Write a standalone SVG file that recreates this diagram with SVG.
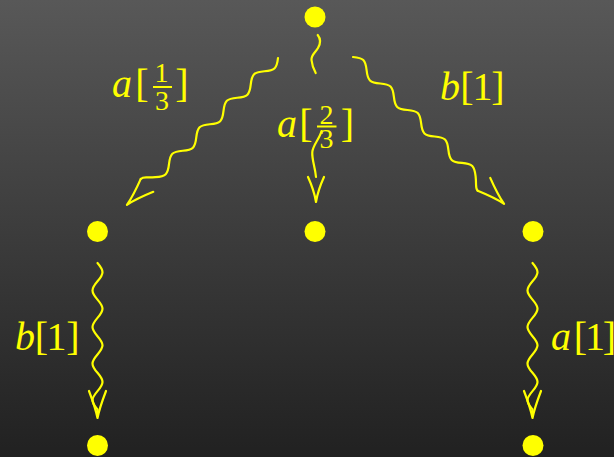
<svg xmlns="http://www.w3.org/2000/svg" xmlns:xlink="http://www.w3.org/1999/xlink" width="614" height="457" viewBox="0 0 614 457">
<style>
.dot{fill:#ffff00}
.t{font-family:"Liberation Serif","DejaVu Serif",serif;font-size:40px;fill:#ffff00;text-anchor:middle}
.it{font-style:italic}
.f{font-size:28px}
.bar{fill:#ffff00}
</style>
<defs>
<linearGradient id="bg" x1="0" y1="0" x2="0" y2="1">
<stop offset="0" stop-color="#585858"/>
<stop offset="1" stop-color="#212121"/>
</linearGradient>
<path id="snakeD" d="M0,0 c8.06,-6.67 10.94,-6.67 19,0 s10.94,6.67 19,0 s10.94,-6.67 19,0 s10.94,6.67 19,0 s10.94,-6.67 19,0 s10.94,6.67 19,0 s10.94,-6.67 19,0 s10.94,6.67 19,0 s10.94,-6.67 19,0 s8,9 11.7,9"/>
<path id="headD" d="M182.7,-9 Q200,-2 210.7,0 Q200,2 182.7,9"/>
<path id="snakeV" d="M0,0 c7.76,-6.67 10.54,-6.67 18.3,0 s10.54,6.67 18.3,0 s10.54,-6.67 18.3,0 s10.54,6.67 18.3,0 s10.54,-6.67 18.3,0 s10.54,6.67 18.3,0 s10.54,-6.67 18.3,0 s10.54,6.67 18.3,0 l6,0"/>
<path id="headV" d="M128,-8.5 Q145,-2 155,0 Q145,2 128,8.5"/>
</defs>
<rect x="0" y="0" width="614" height="457" fill="url(#bg)"/>

<g id="connectors" fill="none" stroke="#ffff00" stroke-width="2.2" stroke-linecap="round" stroke-linejoin="round">
<g id="edge-root-left" transform="translate(278,58) rotate(135.8)"><use href="#snakeD" xlink:href="#snakeD"/><use href="#headD" xlink:href="#headD"/></g>
<g id="edge-root-right" transform="translate(353,57) rotate(44.2)"><use href="#snakeD" xlink:href="#snakeD"/><use href="#headD" xlink:href="#headD"/></g>
<g id="edge-root-mid">
<path d="M317.7,35 C320.5,38.5 321,43 318,48 C315,53 311,55 311.5,60 C312,65 314,70 315.7,73"/>
<path d="M321.5,131 C320,138 313,145 312.3,152 C311.8,160 315,166 316,177"/>
<path d="M308,177 Q314,190 316,202 Q318,190 324,177"/>
</g>
<g id="edge-left-down" transform="translate(97.5,263) rotate(90)"><use href="#snakeV" xlink:href="#snakeV"/><use href="#headV" xlink:href="#headV"/></g>
<g id="edge-right-down" transform="translate(532.5,263) rotate(90)"><use href="#snakeV" xlink:href="#snakeV"/><use href="#headV" xlink:href="#headV"/></g>
</g>

<g id="labels">
<g id="label-a13">
<text class="t" y="97"><tspan class="it" x="122">a</tspan><tspan x="142">[</tspan><tspan x="182">]</tspan></text>
<text class="t f" x="161.5" y="82">1</text>
<rect class="bar" x="153" y="86" width="19" height="2"/>
<text class="t f" x="162" y="110">3</text>
</g>
<g id="label-a23">
<text class="t" y="137"><tspan class="it" x="287">a</tspan><tspan x="306">[</tspan><tspan x="347.5">]</tspan></text>
<text class="t f" x="326.5" y="124">2</text>
<rect class="bar" x="317" y="125.5" width="19.5" height="2"/>
<text class="t f" x="326.5" y="148">3</text>
</g>
<g id="label-b1-top">
<text class="t" y="100"><tspan class="it" x="450">b</tspan><tspan x="467">[</tspan><tspan x="482.5">1</tspan><tspan x="498">]</tspan></text>
</g>
<g id="label-b1-left">
<text class="t" y="350"><tspan class="it" x="25">b</tspan><tspan x="41.5">[</tspan><tspan x="56.5">1</tspan><tspan x="73">]</tspan></text>
</g>
<g id="label-a1-right">
<text class="t" y="350"><tspan class="it" x="561">a</tspan><tspan x="580.5">[</tspan><tspan x="595">1</tspan><tspan x="609.5">]</tspan></text>
</g>
</g>

<g id="node-root"><circle class="dot" cx="315" cy="17" r="10.5"/></g>
<g id="node-left"><circle class="dot" cx="97.5" cy="231.5" r="10.5"/></g>
<g id="node-mid"><circle class="dot" cx="315" cy="231.5" r="10.5"/></g>
<g id="node-right"><circle class="dot" cx="533" cy="231.5" r="10.5"/></g>
<g id="node-left-bottom"><circle class="dot" cx="97.5" cy="445.5" r="10.5"/></g>
<g id="node-right-bottom"><circle class="dot" cx="533" cy="445.5" r="10.5"/></g>
</svg>
